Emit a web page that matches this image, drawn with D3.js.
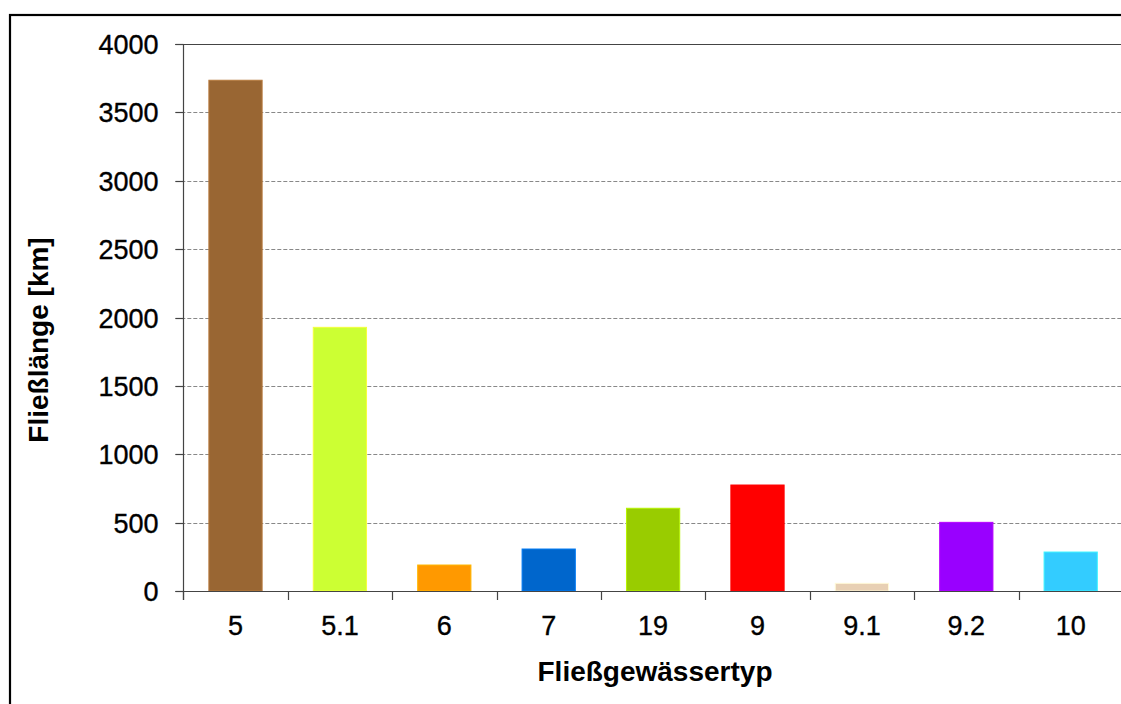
<!DOCTYPE html>
<html>
<head>
<meta charset="utf-8">
<script src="https://cdn.jsdelivr.net/npm/d3@7"></script>
<style>
  html, body { margin: 0; padding: 0; background: #fff; }
  svg { display: block; }
  text { font-family: "Liberation Sans", Arial, sans-serif; fill: #000; }
</style>
</head>
<body>
<svg id="chart" width="1121" height="704"></svg>
<script>
// River types and their total flowing length in km
const types = ["5", "5.1", "6", "7", "19", "9", "9.1", "9.2", "10"];
const lengths = [3735, 1928, 190, 307, 605, 775, 56, 502, 285];
const barColors = ["#996633", "#CCFF33", "#FF9900", "#0066CC", "#99CC00", "#FF0000", "#E8D0B4", "#9900FF", "#33CCFF"];
const yTicks = [0, 500, 1000, 1500, 2000, 2500, 3000, 3500, 4000];

const svg = d3.select("#chart");
const margin = { left: 183.3, top: 44, bottom: 591 };
const plotW = 939.6;

// Outer frame
svg.append("rect")
  .attr("x", 10).attr("y", 15)
  .attr("width", 1130).attr("height", 720)
  .attr("fill", "none").attr("stroke", "#000").attr("stroke-width", 2.2);

const x = d3.scaleBand()
  .domain(types)
  .range([margin.left, margin.left + plotW])
  .paddingInner(0.49)
  .paddingOuter(0.245);

const y = d3.scaleLinear()
  .domain([0, 4000])
  .range([margin.bottom, margin.top]);

const g = svg.append("g");

// Horizontal gridlines (dashed), top one solid
g.selectAll("line.grid")
  .data(yTicks.filter(d => d > 0))
  .join("line")
  .attr("class", "grid")
  .attr("x1", margin.left - 8)
  .attr("x2", margin.left + plotW)
  .attr("y1", d => Math.round(y(d)) + 0.5)
  .attr("y2", d => Math.round(y(d)) + 0.5)
  .attr("stroke", d => d === 4000 ? "#444" : "#888")
  .attr("stroke-width", 1.2)
  .attr("stroke-dasharray", d => d === 4000 ? null : "4,2");

// Bars
g.selectAll("rect.bar")
  .data(types)
  .join("rect")
  .attr("class", "bar")
  .attr("x", d => x(d))
  .attr("width", x.bandwidth())
  .attr("y", (d, i) => y(lengths[i]))
  .attr("height", (d, i) => y(0) - y(lengths[i]))
  .attr("fill", (d, i) => barColors[i])
  .attr("stroke", (d, i) => d3.color(barColors[i]).brighter(0.5))
  .attr("stroke-width", 1);

// Y axis
const yAxis = d3.axisLeft(y).tickValues(yTicks).tickSize(8).tickFormat(d3.format("d"));
const ya = svg.append("g")
  .attr("transform", `translate(${Math.round(margin.left) + 0.5},0)`)
  .call(yAxis);
ya.select(".domain").attr("stroke", "#444").attr("stroke-width", 1.2)
  .attr("d", `M-8,${Math.round(y(4000)) + 0.5}H0V${Math.round(y(0)) + 9}`);
ya.selectAll(".tick line").attr("stroke", "#444").attr("stroke-width", 1.2);
ya.selectAll(".tick").attr("transform", d => `translate(0,${Math.round(y(d)) + 0.5})`);
ya.selectAll(".tick text")
  .attr("x", -25)
  .attr("dy", "0.36em")
  .style("font-family", "'Liberation Sans', Arial, sans-serif")
  .style("font-size", "27px")
  .attr("fill", "#000")
  .attr("stroke", "#000")
  .attr("stroke-width", 0.35);

// X axis baseline with boundary ticks between categories
const boundaries = d3.range(types.length + 1).map(i => margin.left + i * x.step());
svg.append("line")
  .attr("x1", margin.left - 8).attr("x2", margin.left + plotW)
  .attr("y1", Math.round(y(0)) + 0.5).attr("y2", Math.round(y(0)) + 0.5)
  .attr("stroke", "#444").attr("stroke-width", 1.2);
svg.selectAll("line.xtick")
  .data(boundaries)
  .join("line")
  .attr("class", "xtick")
  .attr("x1", d => Math.round(d) + 0.5).attr("x2", d => Math.round(d) + 0.5)
  .attr("y1", Math.round(y(0))).attr("y2", Math.round(y(0)) + 9)
  .attr("stroke", "#444").attr("stroke-width", 1.2);

svg.selectAll("text.xlabel")
  .data(types)
  .join("text")
  .attr("class", "xlabel")
  .attr("x", d => x(d) + x.bandwidth() / 2)
  .attr("y", 635)
  .attr("text-anchor", "middle")
  .style("font-size", "27px")
  .attr("stroke", "#000")
  .attr("stroke-width", 0.35)
  .text(d => d);

// Axis titles
svg.append("text")
  .attr("x", 655).attr("y", 681)
  .attr("text-anchor", "middle")
  .style("font-size", "28px").style("font-weight", "bold")
  .text("Fließgewässertyp");

svg.append("text")
  .attr("transform", "translate(48,340) rotate(-90)")
  .attr("text-anchor", "middle")
  .style("font-size", "28px").style("font-weight", "bold")
  .text("Fließlänge [km]");
</script>
</body>
</html>
